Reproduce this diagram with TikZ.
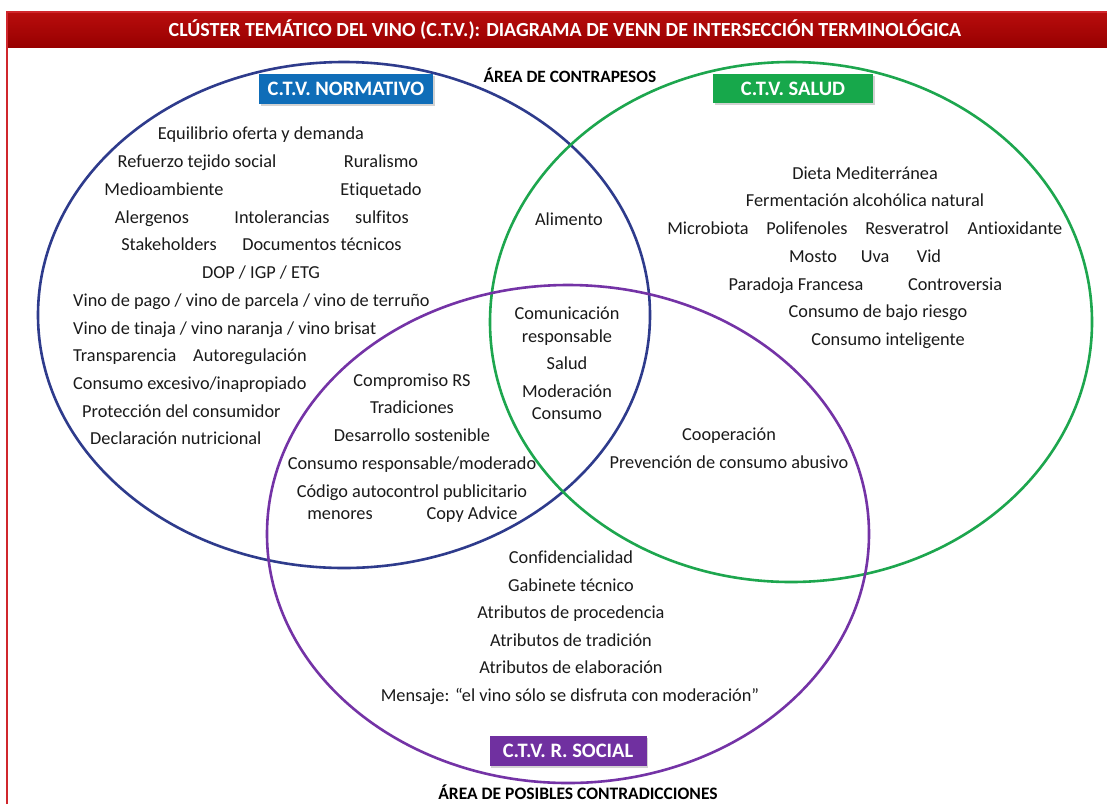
\documentclass[tikz,border=0pt]{standalone}
\usepackage{fontspec}
\setmainfont[Ligatures=NoCommon]{Carlito}
\usetikzlibrary{shadows}
\definecolor{titlered}{HTML}{B30000}
\definecolor{framered}{HTML}{D0262C}
\definecolor{normblue}{HTML}{2E3B8C}
\definecolor{normbox}{HTML}{0F6DB8}
\definecolor{saludgreen}{HTML}{1DA64E}
\definecolor{saludbox}{HTML}{17A84B}
\definecolor{socpurple}{HTML}{7433A6}
\definecolor{socbox}{HTML}{7030A0}
\definecolor{txt}{HTML}{1A1A1A}
\tikzset{
  term/.style={inner sep=0pt, text=txt, font=\fontsize{18.3}{20}\selectfont, anchor=center,
     text height=15pt, text depth=2pt},
  termL/.style={term, anchor=west},
  setbox/.style={inner sep=0pt, text=white, font=\fontsize{20.5}{22}\selectfont\bfseries,
     text height=14pt, text depth=1pt,
     drop shadow={shadow xshift=1.5pt, shadow yshift=-1.5pt, opacity=0.35}},
  area/.style={inner sep=0pt, text=black, text height=13pt, text depth=1pt},
  setline/.style={line width=2.6pt}
}
\begin{document}
\begin{tikzpicture}[x=1pt,y=-1pt]
\useasboundingbox (0,0) rectangle (1107,804);
\fill[white] (0,0) rectangle (1107,804);
% frame
\draw[framered, line width=2pt] (7,804) -- (7,12) -- (1107,12);
\shade[top color=titlered!95!white, bottom color=titlered!85!black] (8,13) rectangle (1107,47);
\node[inner sep=0pt, text=white, font=\fontsize{20}{22}\selectfont\bfseries] (title) at (565,30)
  {CLÚSTER TEMÁTICO DEL VINO (C.T.V.): DIAGRAMA DE VENN DE INTERSECCIÓN TERMINOLÓGICA};
% ellipses
\draw[setline, normblue] (344,315) ellipse [x radius=306, y radius=253];
\draw[setline, saludgreen] (791,322) ellipse [x radius=301, y radius=260];
\draw[setline, socpurple] (568,534) ellipse [x radius=301, y radius=249];
% set labels
\node[setbox, fill=normbox, minimum width=174pt, minimum height=30pt] (lnorm) at (346,89) {C.T.V. NORMATIVO};
\node[setbox, fill=saludbox, minimum width=160pt, minimum height=29pt] (lsalud) at (793,88.5) {C.T.V. SALUD};
\node[setbox, fill=socbox, minimum width=157pt, minimum height=30pt] (lsocial) at (568,751) {C.T.V. R. SOCIAL};
\node[area, font=\fontsize{17.3}{19}\selectfont\bfseries] (contrapesos) at (570,76) {ÁREA DE CONTRAPESOS};
\node[area, font=\fontsize{17.5}{19}\selectfont\bfseries] (contradicciones) at (578,793) {ÁREA DE POSIBLES CONTRADICCIONES};
% Normativo
\node[term] (n1) at (261,133) {Equilibrio oferta y demanda};
\node[term] (n2) at (197,161) {Refuerzo tejido social};
\node[term] (n3) at (381,161) {Ruralismo};
\node[term] (n4) at (164,189) {Medioambiente};
\node[term] (n5) at (381,189) {Etiquetado};
\node[term] (n6) at (152,217) {Alergenos};
\node[term] (n7) at (282,217) {Intolerancias};
\node[term] (n8) at (382,217) {sulfitos};
\node[term] (n9) at (169,244) {Stakeholders};
\node[term] (n10) at (322,244) {Documentos técnicos};
\node[term] (n11) at (261,272) {DOP / IGP / ETG};
\node[termL] (n12) at (73,300) {Vino de pago / vino de parcela / vino de terruño};
\node[termL] (n13) at (73,328) {Vino de tinaja / vino naranja / vino brisat};
\node[termL] (n14) at (73,355) {Transparencia};
\node[termL] (n15) at (193,355) {Autoregulación};
\node[termL] (n16) at (73,383) {Consumo excesivo/inapropiado};
\node[termL] (n17) at (82,411) {Protección del consumidor};
\node[termL] (n18) at (90,438) {Declaración nutricional};
% Normativo & Salud
\node[term] (ns1) at (569,219) {Alimento};
% triple
\node[term] (t1) at (567,313) {Comunicación};
\node[term] (t2) at (567,336) {responsable};
\node[term] (t3) at (567,363) {Salud};
\node[term] (t4) at (567,391) {Moderación};
\node[term] (t5) at (567,413) {Consumo};
% Salud
\node[term] (s1) at (865,173) {Dieta Mediterránea};
\node[term] (s2) at (865,200) {Fermentación alcohólica natural};
\node[term] (s3) at (708,228) {Microbiota};
\node[term] (s4) at (807,228) {Polifenoles};
\node[term] (s5) at (907,228) {Resveratrol};
\node[term] (s6) at (1015,228) {Antioxidante};
\node[term] (s7) at (813,256) {Mosto};
\node[term] (s8) at (875,256) {Uva};
\node[term] (s9) at (929,256) {Vid};
\node[term] (s10) at (796,284) {Paradoja Francesa};
\node[term] (s11) at (955,284) {Controversia};
\node[term] (s12) at (878,311) {Consumo de bajo riesgo};
\node[term] (s13) at (888,339) {Consumo inteligente};
% Normativo & Social
\node[term] (nr1) at (412,380) {Compromiso RS};
\node[term] (nr2) at (412,407) {Tradiciones};
\node[term] (nr3) at (412,435) {Desarrollo sostenible};
\node[term] (nr4) at (412,463) {Consumo responsable/moderado};
\node[term] (nr5) at (412,491) {Código autocontrol publicitario};
\node[term] (nr6) at (340,513) {menores};
\node[term] (nr7) at (472,513) {Copy Advice};
% Salud & Social
\node[term] (sr1) at (729,434) {Cooperación};
\node[term] (sr2) at (729,462) {Prevención de consumo abusivo};
% Social
\node[term] (r1) at (571,557) {Confidencialidad};
\node[term] (r2) at (571,585) {Gabinete técnico};
\node[term] (r3) at (571,612) {Atributos de procedencia};
\node[term] (r4) at (571,640) {Atributos de tradición};
\node[term] (r5) at (571,667) {Atributos de elaboración};
\node[term] (r6) at (570,695) {Mensaje: “el vino sólo se disfruta con moderación”};
\end{tikzpicture}
\end{document}
